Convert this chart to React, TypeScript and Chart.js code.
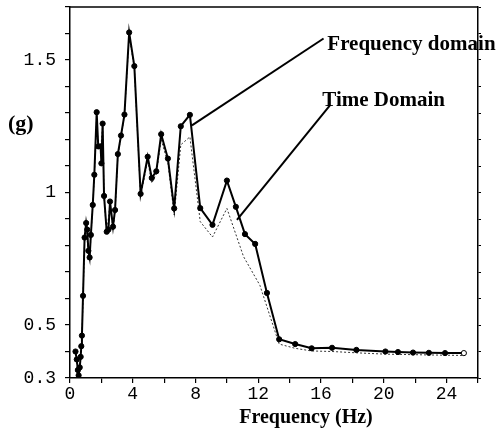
import React, { useEffect, useRef } from "react";
import { Chart, registerables } from "chart.js";
Chart.register(...registerables);

// Frequency domain series (solid line with markers)
const fdHz = [0.35, 0.43, 0.5, 0.55, 0.62, 0.68, 0.72, 0.76, 0.83, 0.93, 1.03, 1.1, 1.17, 1.25, 1.33, 1.45, 1.55, 1.7, 1.8, 1.95, 2.0, 2.08, 2.17, 2.34, 2.45, 2.55, 2.74, 2.87, 3.05, 3.25, 3.47, 3.77, 4.1, 4.5, 4.95, 5.21, 5.5, 5.81, 6.24, 6.64, 7.06, 7.64, 8.3, 9.08, 10.0, 10.57, 11.15, 11.8, 12.55, 13.33, 14.35, 15.4, 16.7, 18.25, 20.1, 20.9, 21.86, 22.87, 23.9, 25.1];
const fdG = [0.40, 0.37, 0.33, 0.31, 0.34, 0.38, 0.42, 0.46, 0.61, 0.83, 0.885, 0.86, 0.78, 0.755, 0.84, 0.953, 1.067, 1.303, 1.174, 1.174, 1.11, 1.26, 0.987, 0.852, 0.86, 0.966, 0.871, 0.934, 1.145, 1.215, 1.294, 1.604, 1.477, 0.995, 1.135, 1.055, 1.08, 1.22, 1.128, 0.94, 1.25, 1.293, 0.941, 0.878, 1.045, 0.946, 0.843, 0.806, 0.621, 0.446, 0.428, 0.412, 0.414, 0.406, 0.400, 0.398, 0.396, 0.395, 0.394, 0.394];

// Time domain series (dotted line)
const tdHz = [0.35, 0.5, 0.55, 0.68, 0.76, 0.83, 0.93, 1.03, 1.17, 1.25, 1.33, 1.45, 1.55, 1.7, 1.8, 1.95, 2.08, 2.17, 2.34, 2.55, 2.74, 2.87, 3.05, 3.25, 3.47, 3.77, 4.1, 4.5, 4.95, 5.21, 5.5, 5.81, 6.24, 6.64, 7.06, 7.64, 8.3, 9.08, 10.0, 11.06, 12.1, 13.33, 14.35, 15.4, 16.7, 18.25, 20.1, 22.87, 25.1];
const tdG = [0.39, 0.33, 0.31, 0.37, 0.45, 0.60, 0.82, 0.87, 0.77, 0.745, 0.83, 0.95, 1.06, 1.29, 1.17, 1.16, 1.25, 0.98, 0.845, 0.96, 0.86, 0.925, 1.14, 1.21, 1.29, 1.59, 1.47, 0.985, 1.12, 1.035, 1.07, 1.2, 1.11, 0.915, 1.18, 1.21, 0.89, 0.832, 0.94, 0.758, 0.65, 0.428, 0.412, 0.402, 0.4, 0.395, 0.39, 0.387, 0.385];

// Tick labels
const xTickValues = [0, 4, 8, 12, 16, 20, 24];
const yTickValues = [0.3, 0.5, 1, 1.5];
const yTickLabels = ["0.3", "0.5", "1", "1.5"];

// Texts
const xTitle = "Frequency (Hz)";
const yTitle = "(g)";
const annotTexts = ["Frequency domain", "Time Domain"];
// text anchor (left, baseline) and pointer line from -> to, in data units
const annotTextAt = [[16.4, 1.537], [16.08, 1.328]];
const annotFrom = [[16.16, 1.581], [16.55, 1.328]];
const annotTo = [[7.77, 1.253], [10.64, 0.897]];

const serif = "'Liberation Serif', 'Times New Roman', serif";
const mono = "'Liberation Mono', 'Courier New', monospace";

const decorPlugin = {
  id: "decor",
  afterDraw(chart: any) {
    const { ctx, chartArea } = chart;
    const xs = chart.scales.x;
    const ys = chart.scales.y;
    ctx.save();
    ctx.strokeStyle = "#000";
    ctx.lineWidth = 1.5;
    ctx.beginPath();
    ctx.moveTo(chartArea.left, chartArea.top);
    ctx.lineTo(chartArea.right, chartArea.top);
    ctx.stroke();

    ctx.lineWidth = 2;
    for (let i = 0; i < annotTexts.length; i++) {
      ctx.beginPath();
      ctx.moveTo(xs.getPixelForValue(annotFrom[i][0]), ys.getPixelForValue(annotFrom[i][1]));
      ctx.lineTo(xs.getPixelForValue(annotTo[i][0]), ys.getPixelForValue(annotTo[i][1]));
      ctx.stroke();
    }
    ctx.fillStyle = "#000";
    ctx.font = `bold 21px ${serif}`;
    ctx.textBaseline = "alphabetic";
    ctx.textAlign = "left";
    for (let i = 0; i < annotTexts.length; i++) {
      ctx.fillText(annotTexts[i], xs.getPixelForValue(annotTextAt[i][0]), ys.getPixelForValue(annotTextAt[i][1]));
    }
    // y title "(g)"
    ctx.font = `bold 22px ${serif}`;
    ctx.fillText(yTitle, 8, ys.getPixelForValue(1.237));
    // x title
    ctx.font = `bold 20px ${serif}`;
    ctx.textAlign = "center";
    ctx.fillText(xTitle, (chartArea.left + chartArea.right) / 2 + 32, 423);
    ctx.restore();
  },
};

export default function App() {
  const ref = useRef<HTMLCanvasElement | null>(null);
  useEffect(() => {
    if (!ref.current) return;
    const fdPts = fdHz.map((x, i) => ({ x, y: fdG[i] }));
    const tdPts = tdHz.map((x, i) => ({ x, y: tdG[i] }));
    const fdFill = fdHz.map((_, i) => (i === fdHz.length - 1 ? "#fff" : "#000"));
    const chart = new Chart(ref.current, {
      type: "scatter",
      data: {
        datasets: [
          {
            label: annotTexts[0],
            data: fdPts,
            showLine: true,
            borderColor: "#000",
            borderWidth: 2,
            pointRadius: 2.6,
            pointBackgroundColor: fdFill,
            pointBorderColor: "#000",
            pointBorderWidth: 1,
          },
          {
            label: annotTexts[1],
            data: tdPts,
            showLine: true,
            borderColor: "#333",
            borderWidth: 1,
            borderDash: [2, 2],
            pointRadius: 0,
          },
        ],
      },
      options: {
        responsive: false,
        animation: false,
        layout: { padding: { left: 0, top: 7, right: 0, bottom: 0 } },
        plugins: { legend: { display: false }, tooltip: { enabled: false } },
        scales: {
          x: {
            type: "linear",
            min: 0,
            max: 26,
            afterFit: (s: any) => { s.height = 60; s.paddingLeft = 0; s.paddingRight = 0; },
            border: { display: true, color: "#000", width: 1.5 },
            grid: { drawOnChartArea: false, drawTicks: true, tickLength: 5, color: "#000", lineWidth: 1.2 },
            ticks: {
              stepSize: 2,
              autoSkip: false,
              maxRotation: 0,
              padding: 0,
              color: "#000",
              font: { family: mono, size: 18 },
              callback: (v: any) => (xTickValues.includes(Number(v)) ? String(v) : ""),
            },
          },
          y: {
            type: "linear",
            min: 0.3,
            max: 1.7,
            afterFit: (s: any) => { s.width = 70; s.paddingTop = 0; s.paddingBottom = 0; },
            border: { display: true, color: "#000", width: 1.5 },
            grid: { drawOnChartArea: false, drawTicks: true, tickLength: 5, color: "#000", lineWidth: 1.2 },
            ticks: {
              stepSize: 0.1,
              autoSkip: false,
              padding: 9,
              color: "#000",
              font: { family: mono, size: 18 },
              callback: (v: any) => {
                const i = yTickValues.findIndex((t) => Math.abs(t - Number(v)) < 1e-6);
                return i >= 0 ? yTickLabels[i] : "";
              },
            },
          },
          y2: {
            type: "linear",
            position: "right",
            min: 0.3,
            max: 1.7,
            afterFit: (s: any) => { s.width = 20; s.paddingTop = 0; s.paddingBottom = 0; },
            border: { display: true, color: "#000", width: 1.5 },
            grid: { drawOnChartArea: false, drawTicks: true, tickLength: 3, color: "#000", lineWidth: 1 },
            ticks: { display: false, stepSize: 0.1 },
          },
        },
      },
      plugins: [decorPlugin],
    });
    return () => chart.destroy();
  }, []);
  return (
    <div style={{ position: "absolute", left: 0, top: 0, width: 498, height: 438, background: "#fff" }}>
      <canvas ref={ref} width={498} height={438} style={{ display: "block" }} />
    </div>
  );
}
